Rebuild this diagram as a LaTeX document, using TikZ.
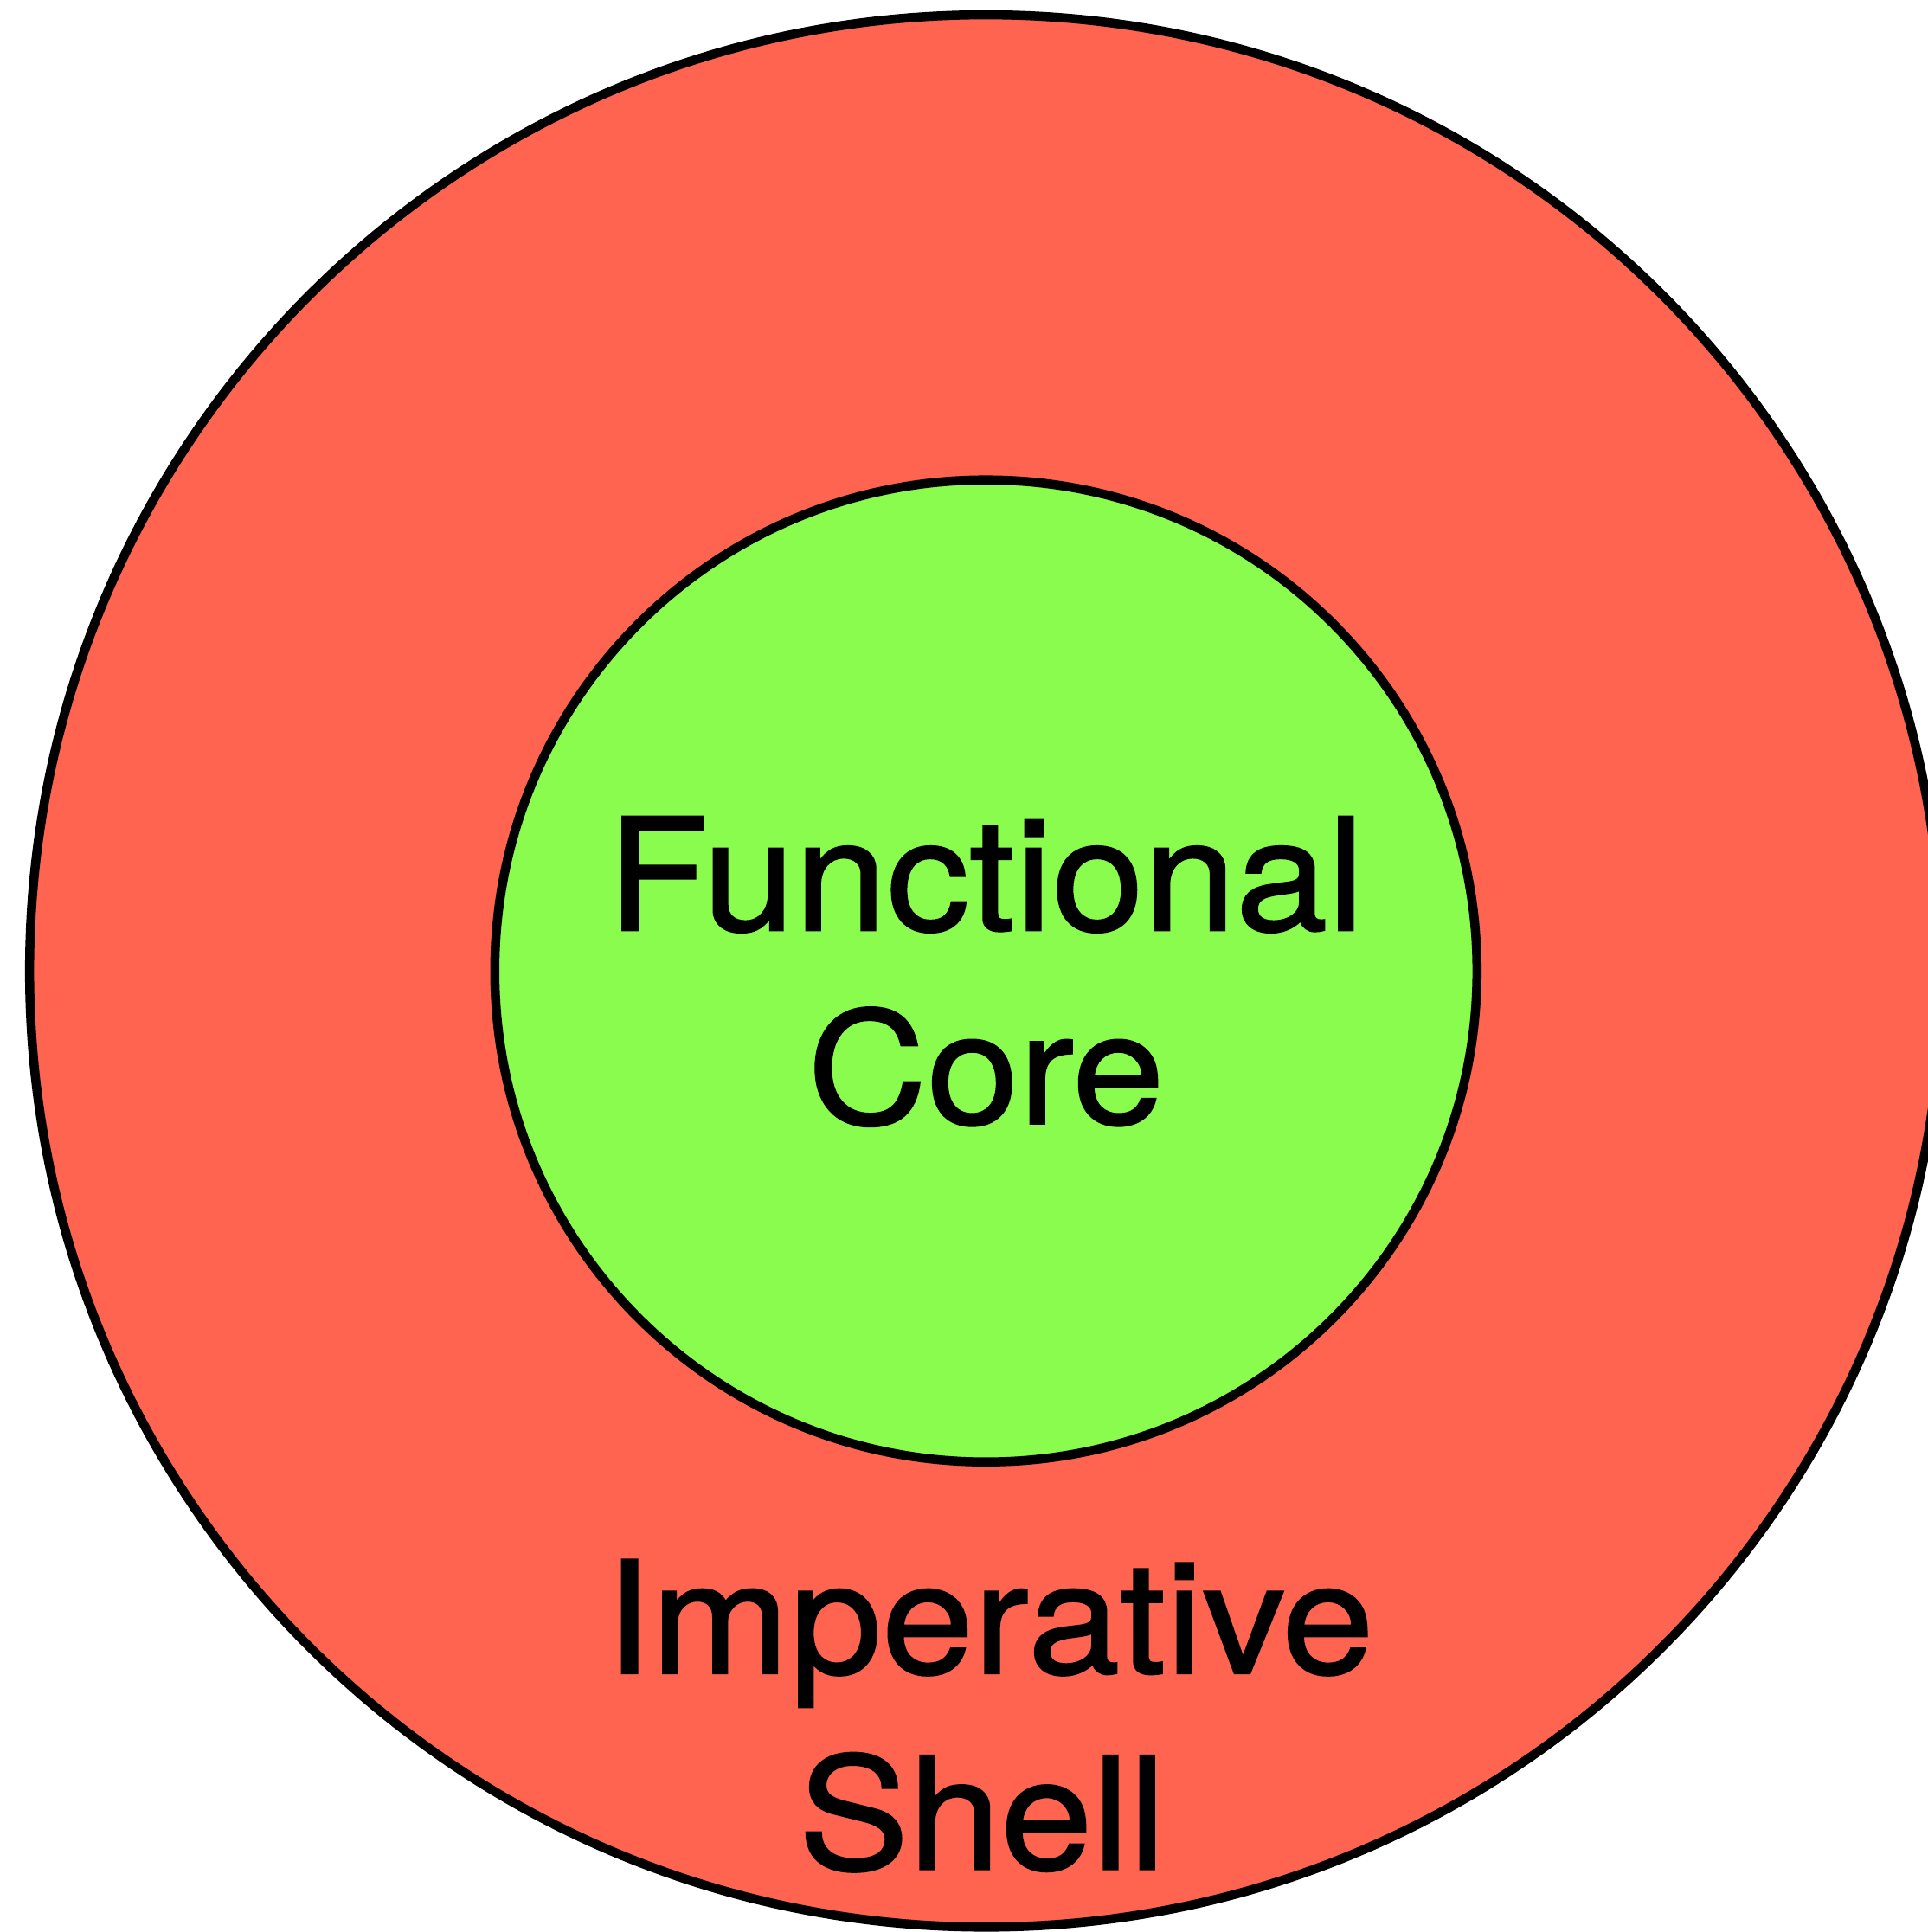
\documentclass[tikz,border=0pt]{standalone}
\usepackage{fontspec}
\setmainfont{TeX Gyre Heros}[FakeBold=1.3, FakeStretch=1.06]
\usetikzlibrary{positioning}
\definecolor{border}{HTML}{000000}
\definecolor{shellFill}{HTML}{FF6450}
\definecolor{coreFill}{HTML}{8AFC4E}
\tikzset{
  ring/.style={
    circle, draw=border, line width=2.1pt, inner sep=0pt,
  },
  shellring/.style={ring, fill=shellFill, minimum size=15.52cm},
  corering/.style={ring, fill=coreFill, minimum size=7.97cm},
  word/.style={font=\fontsize{36}{45}\selectfont, anchor=base, text=black, inner sep=0pt},
}

\begin{document}
\begin{tikzpicture}

  \useasboundingbox (0, 0) rectangle (15.64, -15.68);

  % Rings
  \node[shellring] (shell) at (8.00, -7.88) {};
  \node[corering] (core) at (8.00, -7.88) {};

  % Labels
  \node[word] (coreA) at (8.00, -7.55) {Functional};
  \node[word] (coreB) at (8.00, -9.12) {Core};
  \node[word] (shellA) at (8.03, -13.58) {Imperative};
  \node[word] (shellB) at (7.97, -15.17) {Shell};

\end{tikzpicture}
\end{document}
